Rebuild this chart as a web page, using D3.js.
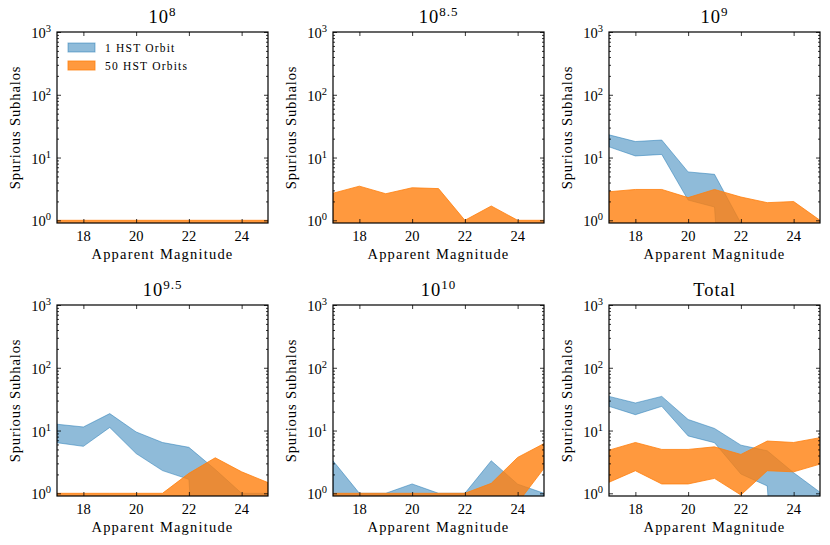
<!DOCTYPE html>
<html>
<head>
<meta charset="utf-8">
<script src="https://cdn.jsdelivr.net/npm/d3@7"></script>
<style>
  body { margin: 0; background: white; }
  text { font-family: "Liberation Serif", "Times New Roman", serif; fill: #000; }
</style>
</head>
<body>
<div id="chart"></div>
<script>
// apparent magnitude bins
var mags = [17, 18, 19, 20, 21, 22, 23, 24, 25];

// 1 HST orbit band (low / high), 0 = nothing
var blue8Lo = [0, 0, 0, 0, 0, 0, 0, 0, 0];
var blue8Hi = [0, 0, 0, 0, 0, 0, 0, 0, 0];
var blue85Lo = [0, 0, 0, 0, 0, 0, 0, 0, 0];
var blue85Hi = [0, 0, 0, 0, 0, 0, 0, 0, 0];
var blue9Lo = [14.8, 10.6, 11.2, 2.1, 1.63, 0, 0, 0, 0];
var blue9Hi = [23, 18, 19, 5.9, 5.4, 0.9, 0, 0, 0];
var blue95Lo = [6.4, 5.6, 11.2, 4.3, 2.3, 1.67, 0, 0, 0];
var blue95Hi = [12.6, 11.4, 18.6, 9.5, 6.45, 5.4, 2.4, 1, 1];
var blue10Lo = [0, 0, 0, 0, 0, 0, 0, 0, 0];
var blue10Hi = [3.3, 1, 1, 1.41, 1, 1, 3.3, 1.4, 1];
var blueTotLo = [24.3, 17.9, 24.3, 8.2, 6.4, 2.03, 1.31, 0, 0];
var blueTotHi = [35, 27.5, 35, 15, 10.8, 5.85, 4.76, 2.13, 1.04];

// 50 HST orbits band (low / high)
var orange8Lo = [0, 0, 0, 0, 0, 0, 0, 0, 0];
var orange8Hi = [1, 1, 1, 1, 1, 1, 1, 1, 1];
var orange85Lo = [0, 0, 0, 0, 0, 0, 0, 0, 0];
var orange85Hi = [2.7, 3.5, 2.65, 3.3, 3.2, 1.0, 1.69, 1, 1];
var orange9Lo = [0, 0, 0, 0, 0, 0, 0, 0, 0];
var orange9Hi = [2.85, 3.1, 3.1, 2.3, 3.1, 2.35, 1.91, 1.99, 1];
var orange95Lo = [0, 0, 0, 0, 0, 0, 0, 0, 0];
var orange95Hi = [1, 1, 1, 1, 1, 2.08, 3.68, 2.2, 1.48];
var orange10Lo = [0, 0, 0, 0, 0, 0, 0, 0.7, 2.5];
var orange10Hi = [1, 1, 1, 1, 1, 1, 1.44, 3.73, 6.2];
var orangeTotLo = [1.5, 2.29, 1.41, 1.41, 1.73, 0.94, 2.29, 2.2, 2.92];
var orangeTotHi = [4.87, 6.45, 5.0, 5.0, 5.5, 4.16, 6.8, 6.45, 7.7];

var titles = [["10", "8"], ["10", "8.5"], ["10", "9"], ["10", "9.5"], ["10", "10"], ["Total", ""]];
var xTicks = [18, 20, 22, 24];
var yTicks = [1, 10, 100, 1000];
var legendLabels = ["1 HST Orbit", "50 HST Orbits"];

var panels = [
    { blue: [blue8Lo, blue8Hi], orange: [orange8Lo, orange8Hi] },
    { blue: [blue85Lo, blue85Hi], orange: [orange85Lo, orange85Hi] },
    { blue: [blue9Lo, blue9Hi], orange: [orange9Lo, orange9Hi] },
    { blue: [blue95Lo, blue95Hi], orange: [orange95Lo, orange95Hi] },
    { blue: [blue10Lo, blue10Hi], orange: [orange10Lo, orange10Hi] },
    { blue: [blueTotLo, blueTotHi], orange: [orangeTotLo, orangeTotHi] }
];

let svgWidth = 830;
let svgHeight = 545;
let plotW = 211;
let plotH = 191;
let lefts = [57, 333, 609];
let tops = [32, 305];

let blueFill = "rgba(31,119,180,0.5)";
let orangeFill = "rgba(255,127,14,0.8)";

let xScale = d3.scaleLinear().domain([17, 25]).range([0, plotW]);
let yScale = d3.scaleLog().domain([0.906, 1000]).range([plotH, 0]);

function yPos(v) {
    return yScale(Math.max(v, 1e-6));
}

let svg = d3.select("#chart")
    .append("svg")
    .attr("width", svgWidth)
    .attr("height", svgHeight);

panels.forEach((p, i) => {
    let gx = lefts[i % 3];
    let gy = tops[Math.floor(i / 3)];
    let g = svg.append("g").attr("transform", "translate(" + gx + "," + gy + ")");

    g.append("clipPath").attr("id", "clip" + i)
        .append("rect").attr("width", plotW).attr("height", plotH);

    let area = d3.area()
        .x((d, j) => xScale(mags[j]))
        .y0((d, j) => yPos(d[0]))
        .y1((d, j) => yPos(d[1]));

    let plot = g.append("g").attr("clip-path", "url(#clip" + i + ")");

    // bands, blue first then orange on top
    [[p.blue, blueFill], [p.orange, orangeFill]].forEach(([band, col]) => {
        let pts = mags.map((m, j) => [band[0][j], band[1][j]]);
        if (d3.max(band[1]) <= 0) return;
        plot.append("path")
            .datum(pts)
            .attr("d", area)
            .attr("fill", col)
            .attr("stroke", col)
            .attr("stroke-width", 1);
    });

    // ticks pointing inward, on all four sides
    let xTop = d3.axisBottom(xScale).tickValues(xTicks).tickSize(4).tickFormat("");
    let xBot = d3.axisTop(xScale).tickValues(xTicks).tickSize(4).tickFormat("");
    g.append("g").call(xTop).call(a => a.select(".domain").remove());
    g.append("g").attr("transform", "translate(0," + plotH + ")").call(xBot)
        .call(a => a.select(".domain").remove());

    let minor = [];
    [1, 10, 100].forEach(b => { for (let k = 2; k <= 9; k++) minor.push(b * k); });
    let yL = d3.axisRight(yScale).tickValues(yTicks).tickSize(4).tickFormat("");
    let yR = d3.axisLeft(yScale).tickValues(yTicks).tickSize(4).tickFormat("");
    let yLm = d3.axisRight(yScale).tickValues(minor).tickSize(2).tickFormat("");
    let yRm = d3.axisLeft(yScale).tickValues(minor).tickSize(2).tickFormat("");
    g.append("g").call(yL).call(a => a.select(".domain").remove());
    g.append("g").call(yLm).call(a => a.select(".domain").remove());
    g.append("g").attr("transform", "translate(" + plotW + ",0)").call(yR)
        .call(a => a.select(".domain").remove());
    g.append("g").attr("transform", "translate(" + plotW + ",0)").call(yRm)
        .call(a => a.select(".domain").remove());
    g.selectAll(".tick line").attr("stroke", "#000").attr("stroke-width", 0.8);

    // frame
    g.append("rect")
        .attr("width", plotW).attr("height", plotH)
        .attr("fill", "none").attr("stroke", "#000").attr("stroke-width", 1.2);

    // tick labels
    g.selectAll(".xlab").data(xTicks).enter().append("text")
        .attr("x", d => xScale(d)).attr("y", plotH + 18)
        .attr("text-anchor", "middle").attr("font-size", "14.5px")
        .text(d => d);

    let yl = g.selectAll(".ylab").data(yTicks).enter().append("text")
        .attr("x", -6).attr("y", d => yScale(d) + 6)
        .attr("text-anchor", "end").attr("font-size", "14.5px");
    yl.append("tspan").text("10");
    yl.append("tspan").attr("dy", -6).attr("font-size", "10.5px").text(d => Math.round(Math.log10(d)));

    // axis titles
    g.append("text")
        .attr("x", plotW / 2).attr("y", plotH + 36)
        .attr("text-anchor", "middle").attr("font-size", "14.5px")
        .attr("letter-spacing", "1.2px")
        .text("Apparent Magnitude");
    g.append("text")
        .attr("transform", "translate(-37," + (plotH / 2) + ") rotate(-90)")
        .attr("text-anchor", "middle").attr("font-size", "14.5px")
        .attr("letter-spacing", "0.9px")
        .text("Spurious Subhalos");

    // panel title
    let t = g.append("text")
        .attr("x", plotW / 2).attr("y", -9)
        .attr("text-anchor", "middle").attr("font-size", "18.5px")
        .attr("letter-spacing", "1px");
    t.append("tspan").text(titles[i][0]);
    if (titles[i][1] !== "") {
        t.append("tspan").attr("dy", -7).attr("font-size", "13px").text(titles[i][1]);
    }

    // legend only on first panel
    if (i === 0) {
        let leg = g.selectAll(".leg").data(legendLabels).enter().append("g")
            .attr("transform", (d, k) => "translate(11," + (11 + k * 18) + ")");
        leg.append("rect")
            .attr("width", 27).attr("height", 9)
            .attr("fill", (d, k) => k === 0 ? blueFill : orangeFill)
            .attr("stroke", (d, k) => k === 0 ? blueFill : orangeFill);
        leg.append("text")
            .attr("x", 37).attr("y", 9)
            .attr("font-size", "11.5px")
            .attr("letter-spacing", "1.2px")
            .text(d => d);
    }
});
</script>
</body>
</html>
